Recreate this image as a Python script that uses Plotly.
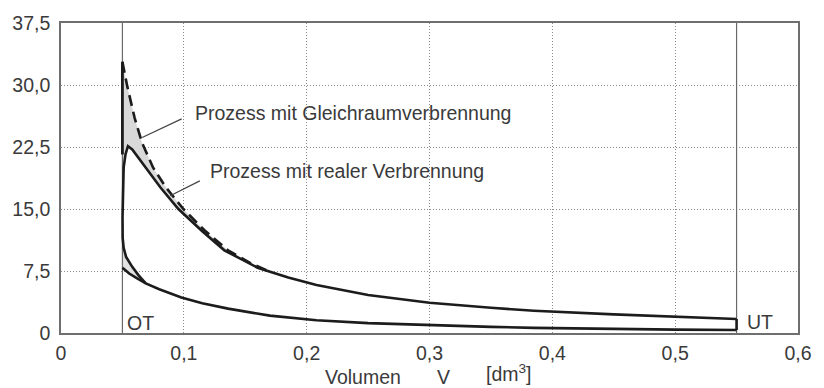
import plotly.graph_objects as go

# Kompression (gemeinsam fuer beide Prozesse)
comp_v = [0.05, 0.0555, 0.062, 0.069, 0.08, 0.098, 0.115, 0.136, 0.17, 0.208,
          0.25, 0.3, 0.35, 0.385, 0.45, 0.5, 0.55]
comp_p = [7.9, 7.2, 6.6, 6.0, 5.3, 4.3, 3.6, 2.95, 2.1, 1.55,
          1.2, 0.95, 0.74, 0.62, 0.48, 0.41, 0.36]

# Reale Verbrennung: Druckanstieg um OT bis zum Spitzendruck
real_burn_v = [0.069, 0.063, 0.058, 0.053, 0.051, 0.0502, 0.0501, 0.0503, 0.051, 0.0525, 0.0545]
real_burn_p = [6.0, 7.0, 8.0, 9.2, 10.3, 11.5, 14.0, 17.5, 20.0, 21.6, 22.6]

# Reale Expansion bis UT
real_exp_v = [0.0545, 0.058, 0.064, 0.072, 0.081, 0.0956, 0.115, 0.133, 0.16, 0.185,
              0.208, 0.25, 0.3, 0.35, 0.385, 0.45, 0.5, 0.55]
real_exp_p = [22.6, 22.2, 21.0, 19.3, 17.6, 15.0, 12.3, 10.0, 7.9, 6.7,
              5.8, 4.6, 3.65, 3.05, 2.7, 2.25, 1.95, 1.7]

# Gleichraumverbrennung: Drucksprung bei OT, dann Expansion
ideal_v = [0.05, 0.05, 0.054, 0.06, 0.066, 0.075, 0.0855, 0.0996, 0.117, 0.136, 0.155, 0.17]
ideal_p = [7.9, 32.8, 29.8, 26.0, 23.0, 20.0, 17.6, 15.0, 12.4, 10.0, 8.4, 7.4]

# Totpunkte
ot_v = 0.05
ut_v = 0.55

x_ticks = [0, 0.1, 0.2, 0.3, 0.4, 0.5, 0.6]
x_ticktext = ["0", "0,1", "0,2", "0,3", "0,4", "0,5", "0,6"]
y_ticks = [0, 7.5, 15.0, 22.5, 30.0, 37.5]
y_ticktext = ["0", "7,5", "15,0", "22,5", "30,0", "37,5"]

FONT = "Liberation Sans, Arial, Helvetica, sans-serif"
FS = 19.5
INK = "#1c1c1c"
TXT = "#3a3a3a"

fig = go.Figure()

# Graue Flaeche zwischen Gleichraum- und realer Verbrennung (oben)
upper_fill_v = ideal_v[1:] + [v for v in reversed(real_exp_v) if v <= ideal_v[-1]] + list(reversed(real_burn_v[6:]))
upper_fill_p = ideal_p[1:] + [p for v, p in zip(reversed(real_exp_v), reversed(real_exp_p)) if v <= ideal_v[-1]] + list(reversed(real_burn_p[6:]))
fig.add_trace(go.Scatter(x=upper_fill_v, y=upper_fill_p, mode="lines", fill="toself",
                         fillcolor="#d9d9d9", line=dict(width=0), hoverinfo="skip", showlegend=False))

# Graue Flaeche um OT (unten)
lower_fill_v = real_burn_v[:7] + [ot_v] + [v for v in comp_v if v <= real_burn_v[0]]
lower_fill_p = real_burn_p[:7] + [comp_p[0]] + [p for v, p in zip(comp_v, comp_p) if v <= real_burn_v[0]]
fig.add_trace(go.Scatter(x=lower_fill_v, y=lower_fill_p, mode="lines", fill="toself",
                         fillcolor="#e2e2e2", line=dict(width=0), hoverinfo="skip", showlegend=False))

# OT / UT Linien
for v in (ot_v, ut_v):
    fig.add_trace(go.Scatter(x=[v, v], y=[0, 37.5], mode="lines",
                             line=dict(color="#6a6a6a", width=1.2), hoverinfo="skip", showlegend=False))

# Kompression
fig.add_trace(go.Scatter(x=comp_v, y=comp_p, mode="lines",
                         line=dict(color=INK, width=2.6), showlegend=False))
# Gleichraum: senkrechter Drucksprung
fig.add_trace(go.Scatter(x=ideal_v[:2], y=[real_burn_p[-1] - 1.0, ideal_p[1]], mode="lines",
                         line=dict(color=INK, width=2.8), showlegend=False))
# Gleichraum: Expansion (gestrichelt)
fig.add_trace(go.Scatter(x=ideal_v[1:], y=ideal_p[1:], mode="lines",
                         line=dict(color=INK, width=2.6, dash="11px,6px"), showlegend=False))
# Reale Verbrennung und Expansion
fig.add_trace(go.Scatter(x=real_burn_v + real_exp_v[1:], y=real_burn_p + real_exp_p[1:], mode="lines",
                         line=dict(color=INK, width=2.6), showlegend=False))
# Ausschieben bei UT
fig.add_trace(go.Scatter(x=[ut_v, ut_v], y=[real_exp_p[-1], comp_p[-1]], mode="lines",
                         line=dict(color=INK, width=2.6), showlegend=False))

# Hinweislinien zu den Beschriftungen
fig.add_trace(go.Scatter(x=[0.0982, 0.0661], y=[25.9, 23.65], mode="lines",
                         line=dict(color="#444444", width=1.2), hoverinfo="skip", showlegend=False))
fig.add_trace(go.Scatter(x=[0.113, 0.0889], y=[18.4, 16.6], mode="lines",
                         line=dict(color="#444444", width=1.2), hoverinfo="skip", showlegend=False))

annotations = [
    dict(x=0.1075, y=26.6, text="Prozess mit Gleichraumverbrennung", xanchor="left", yanchor="middle"),
    dict(x=0.12, y=19.6, text="Prozess mit realer Verbrennung", xanchor="left", yanchor="middle"),
    dict(x=0.0525, y=1.2, text="OT", xanchor="left", yanchor="middle"),
    dict(x=0.5565, y=1.3, text="UT", xanchor="left", yanchor="middle"),
]
for a in annotations:
    fig.add_annotation(xref="x", yref="y", showarrow=False,
                       font=dict(family=FONT, size=FS, color=TXT), **a)

# Achsenbeschriftung
for xv, yv, txt in ((0.2455, -0.141, "Volumen"), (0.311, -0.141, "V"), (0.365, -0.128, "[dm<sup>3</sup>]")):
    fig.add_annotation(xref="x", yref="paper", x=xv, y=yv, text=txt, showarrow=False,
                       xanchor="center", yanchor="middle",
                       font=dict(family=FONT, size=FS, color=TXT))

axis_common = dict(showline=True, mirror=True, linecolor="#6f6f6f", linewidth=1.6,
                   showgrid=True, gridcolor="#8a8a8a", gridwidth=1, griddash="1px,2px",
                   zeroline=False, ticks="outside", tickcolor="rgba(0,0,0,0)",
                   tickfont=dict(family=FONT, size=FS, color=TXT))

fig.update_xaxes(range=[0, 0.6], tickvals=x_ticks, ticktext=x_ticktext, ticklen=2, **axis_common)
fig.update_yaxes(range=[0, 37.5], tickvals=y_ticks, ticktext=y_ticktext, ticklen=5, **axis_common)

fig.update_layout(width=824, height=388, margin=dict(l=61, r=16, t=21, b=55),
                  paper_bgcolor="white", plot_bgcolor="white")

fig.write_html("out.html")
